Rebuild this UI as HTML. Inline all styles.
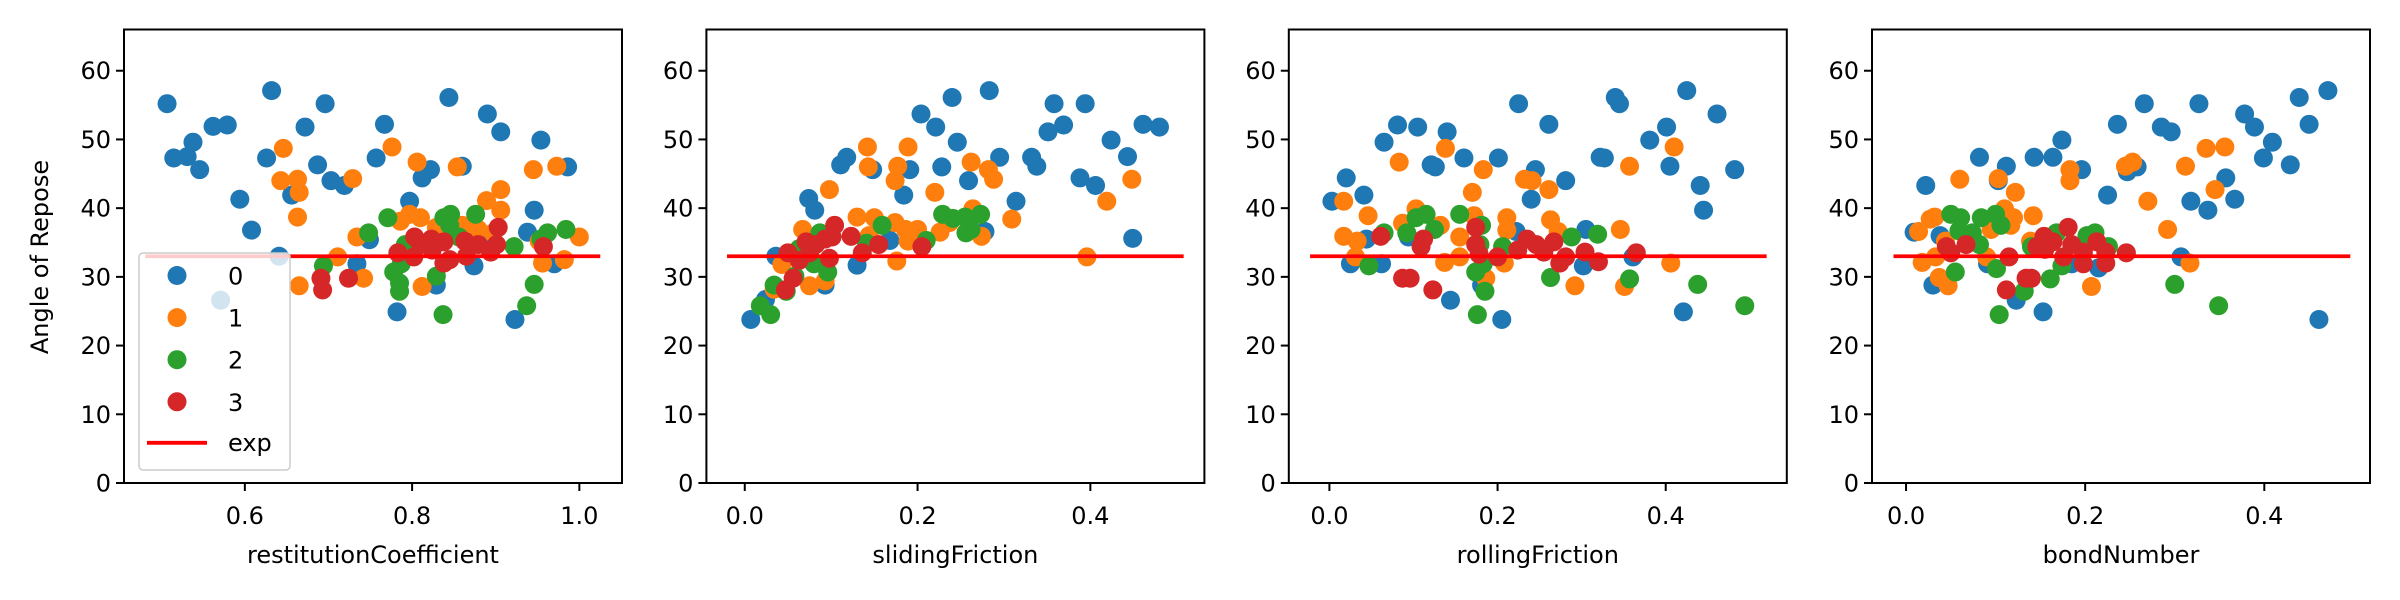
<!DOCTYPE html>
<html><head><meta charset="utf-8"><style>
html,body{margin:0;padding:0;background:#fff}
svg{display:block}
text{font-family:"DejaVu Sans","Liberation Sans",sans-serif;fill:#000}
</style></head><body>
<svg id="chart" width="2400" height="600" viewBox="0 0 2400 600" xmlns="http://www.w3.org/2000/svg"></svg>
<script>
const COLORS=["#1f77b4","#ff7f0e","#2ca02c","#d62728"];
const SERIES_NAMES=["0","1","2","3"];
const EXP_VALUE=33;
const Y_TICKS=[0,10,20,30,40,50,60];
const X_LABELS=["restitutionCoefficient","slidingFriction","rollingFriction","bondNumber"];
const X_TICKS=[[0.6,0.8,1.0],[0.0,0.2,0.4],[0.0,0.2,0.4],[0.0,0.2,0.4]];
const X_TICK_LABELS=[["0.6","0.8","1.0"],["0.0","0.2","0.4"],["0.0","0.2","0.4"],["0.0","0.2","0.4"]];
const X_DOMAINS=[[0.4555,1.051],[-0.0444,0.532],[-0.0483,0.544],[-0.038,0.518]];
const EXP_SPANS=[[0.481,1.025],[-0.0205,0.508],[-0.023,0.52],[-0.014,0.496]];

// panel 1 restitutionCoefficient
const p1x0=[0.507,0.515,0.531,0.538,0.546,0.562,0.579,0.594,0.608,0.571,0.641,0.632,0.626,0.672,0.687,0.696,0.703,0.719,0.656,0.734,0.749,0.757,0.767,0.782,0.797,0.812,0.822,0.829,0.844,0.860,0.874,0.890,0.906,0.886,0.923,0.938,0.946,0.954,0.970,0.986];
const p1y0=[55.2,47.3,47.5,49.6,45.6,51.9,52.1,41.3,36.8,26.6,33.0,57.1,47.3,51.8,46.3,55.2,44.0,43.3,41.9,31.9,35.4,47.3,52.2,24.9,41.0,44.4,45.6,28.8,56.1,46.1,31.6,53.7,51.1,35.8,23.8,36.5,39.7,49.9,31.9,46.0];
const p1x1=[0.646,0.643,0.663,0.665,0.663,0.665,0.711,0.729,0.734,0.742,0.776,0.786,0.797,0.806,0.810,0.812,0.829,0.854,0.860,0.879,0.889,0.906,0.906,0.945,0.952,0.956,0.973,0.982,1.000,0.897];
const p1y1=[48.7,44.0,44.2,42.3,38.7,28.7,32.9,44.3,35.8,29.8,48.9,38.1,39.1,46.7,38.6,28.6,37.2,46.0,37.5,36.9,41.1,42.7,39.7,45.6,35.2,32.0,46.1,32.5,35.8,36.4];
const p1x2=[0.694,0.748,0.771,0.778,0.785,0.785,0.787,0.792,0.829,0.837,0.838,0.846,0.845,0.876,0.922,0.946,0.937,0.962,0.954,0.984,0.856];
const p1y2=[31.6,36.4,38.6,30.7,29.1,27.9,31.9,34.7,30.1,24.5,38.6,39.1,37.5,39.1,34.4,28.9,25.8,36.4,35.5,36.9,35.8];
const p1x3=[0.691,0.693,0.724,0.783,0.802,0.803,0.810,0.823,0.824,0.838,0.838,0.845,0.863,0.865,0.879,0.894,0.903,0.901,0.957];
const p1y3=[29.8,28.1,29.8,33.5,32.9,35.8,34.7,35.5,33.9,35.1,32.0,32.5,35.2,33.0,34.7,33.6,37.2,34.7,34.4];

// panel 2 slidingFriction
const p2x0=[0.007,0.024,0.036,0.074,0.081,0.093,0.111,0.118,0.148,0.130,0.168,0.184,0.191,0.204,0.221,0.228,0.240,0.246,0.259,0.278,0.283,0.295,0.314,0.332,0.338,0.351,0.358,0.369,0.388,0.394,0.406,0.424,0.443,0.449,0.461,0.480];
const p2y0=[23.8,26.7,33.0,41.4,39.7,28.8,46.3,47.4,45.6,31.7,35.3,41.9,45.6,53.7,51.8,46.0,56.1,49.6,44.0,36.6,57.1,47.4,41.0,47.4,46.1,51.1,55.2,52.1,44.4,55.2,43.3,49.9,47.5,35.6,52.2,51.8];
const p2x1=[0.034,0.043,0.067,0.075,0.093,0.098,0.130,0.142,0.143,0.144,0.150,0.174,0.177,0.176,0.174,0.186,0.189,0.189,0.200,0.220,0.226,0.237,0.262,0.264,0.274,0.282,0.288,0.309,0.396,0.419,0.448];
const p2y1=[28.2,31.8,36.9,28.7,29.4,42.7,38.7,48.9,46.0,36.0,38.6,44.0,46.1,32.3,37.9,36.9,48.9,35.2,36.9,42.3,36.5,37.9,46.7,39.9,35.9,45.6,44.2,38.4,32.9,41.0,44.2];
const p2x2=[0.018,0.030,0.034,0.048,0.058,0.063,0.080,0.087,0.096,0.141,0.159,0.210,0.229,0.241,0.255,0.256,0.273,0.262];
const p2y2=[25.8,24.5,28.8,27.9,30.1,34.1,31.9,36.4,30.7,34.9,37.5,35.3,39.1,38.5,38.7,36.4,39.1,36.9];
const p2x3=[0.047,0.050,0.056,0.063,0.071,0.075,0.082,0.093,0.098,0.104,0.101,0.123,0.136,0.155,0.205];
const p2y3=[28.1,33.5,29.8,32.4,35.1,33.5,34.7,35.5,32.7,37.5,35.8,35.9,33.5,34.7,34.4];

// panel 3 rollingFriction
const p3x0=[0.003,0.020,0.025,0.041,0.044,0.062,0.065,0.081,0.094,0.105,0.121,0.126,0.140,0.144,0.160,0.181,0.201,0.205,0.222,0.225,0.240,0.245,0.261,0.281,0.302,0.305,0.322,0.327,0.340,0.345,0.361,0.381,0.401,0.405,0.421,0.425,0.441,0.445,0.461,0.482];
const p3y0=[41.0,44.4,31.9,41.9,35.5,31.9,49.6,52.1,35.8,51.8,46.3,46.0,51.1,26.6,47.3,28.8,47.3,23.8,36.6,55.2,41.3,45.6,52.2,44.0,31.6,36.9,47.4,47.3,56.1,55.2,32.9,49.9,51.8,46.1,24.9,57.1,43.3,39.7,53.7,45.6];
const p3x1=[0.017,0.017,0.033,0.031,0.046,0.083,0.087,0.103,0.132,0.138,0.137,0.155,0.155,0.170,0.172,0.183,0.186,0.208,0.211,0.211,0.232,0.241,0.261,0.263,0.272,0.292,0.346,0.351,0.357,0.406,0.410];
const p3y1=[41.0,35.9,35.2,32.9,38.9,46.7,37.8,39.9,37.5,48.7,32.1,35.8,32.9,42.3,38.9,45.6,29.8,32.0,38.6,36.8,44.2,44.0,42.7,38.3,36.6,28.7,36.9,28.6,46.1,32.0,48.9];
const p3x2=[0.047,0.065,0.092,0.103,0.115,0.125,0.155,0.174,0.176,0.181,0.185,0.183,0.179,0.206,0.263,0.288,0.319,0.357,0.438,0.494];
const p3y2=[31.6,36.4,36.4,38.6,39.1,36.9,39.1,30.7,24.5,37.5,27.9,31.9,34.7,34.4,29.9,35.8,36.2,29.7,28.9,25.8];
const p3x3=[0.061,0.087,0.096,0.109,0.112,0.123,0.174,0.174,0.178,0.200,0.224,0.235,0.246,0.255,0.267,0.274,0.281,0.304,0.320,0.365];
const p3y3=[35.9,29.8,29.8,34.4,35.5,28.1,37.2,34.7,33.3,32.9,33.9,35.5,34.7,33.6,35.1,32.0,32.9,33.6,32.2,33.5];

// panel 4 bondNumber
const p4x0=[0.009,0.022,0.030,0.038,0.082,0.091,0.103,0.112,0.123,0.143,0.153,0.164,0.174,0.185,0.196,0.215,0.225,0.236,0.247,0.258,0.266,0.285,0.296,0.307,0.318,0.327,0.337,0.357,0.367,0.378,0.389,0.399,0.409,0.429,0.439,0.450,0.461,0.471];
const p4y0=[36.5,43.3,28.8,36.0,47.4,31.9,44.0,46.1,26.6,47.4,24.9,47.4,49.9,31.9,45.6,31.3,41.9,52.2,45.3,46.0,55.2,51.8,51.1,32.9,41.0,55.2,39.7,44.4,41.3,53.7,51.8,47.3,49.6,46.3,56.1,52.2,23.8,57.1];
const p4x1=[0.014,0.018,0.027,0.032,0.033,0.037,0.047,0.044,0.060,0.090,0.095,0.103,0.110,0.117,0.120,0.122,0.139,0.142,0.183,0.183,0.207,0.245,0.253,0.270,0.292,0.312,0.317,0.335,0.345,0.356];
const p4y1=[36.6,32.1,38.4,38.7,32.9,29.9,28.7,35.2,44.2,32.9,36.9,44.3,39.9,37.5,38.6,42.3,35.2,38.9,45.6,44.0,28.6,46.1,46.7,41.0,36.9,46.1,32.0,48.7,42.7,48.9];
const p4x2=[0.050,0.055,0.061,0.059,0.074,0.082,0.084,0.100,0.101,0.104,0.106,0.132,0.140,0.161,0.168,0.174,0.202,0.211,0.226,0.300,0.349];
const p4y2=[39.1,30.7,38.6,36.7,36.4,34.7,38.6,39.1,31.2,24.5,37.5,27.9,34.4,29.7,36.4,31.6,36.0,36.4,34.4,28.9,25.8];
const p4x3=[0.045,0.050,0.067,0.112,0.115,0.134,0.140,0.146,0.154,0.155,0.164,0.176,0.181,0.185,0.198,0.198,0.213,0.223,0.223,0.246];
const p4y3=[34.4,33.5,34.7,28.1,32.9,29.8,29.8,34.4,35.9,34.0,35.1,32.9,37.2,34.7,33.6,31.9,35.1,32.0,33.6,33.5];

const PANEL_X=[[p1x0,p1x1,p1x2,p1x3],[p2x0,p2x1,p2x2,p2x3],[p3x0,p3x1,p3x2,p3x3],[p4x0,p4x1,p4x2,p4x3]];
const PANEL_Y=[[p1y0,p1y1,p1y2,p1y3],[p2y0,p2y1,p2y2,p2y3],[p3y0,p3y1,p3y2,p3y3],[p4y0,p4y1,p4y2,p4y3]];

const NS="http://www.w3.org/2000/svg";
const svg=document.getElementById('chart');
function mk(tag,attrs,parent){const e=document.createElementNS(NS,tag);for(const k in attrs)e.setAttribute(k,attrs[k]);(parent||svg).appendChild(e);return e;}

const PANEL_LEFT=[124,706.4,1288.8,1872];
const PW=498, TOP=29.5, BOT=483, YMAX=66;
function yScale(v){return BOT-(v/YMAX)*(BOT-TOP);}

for(let p=0;p<4;p++){
  const L=PANEL_LEFT[p], dom=X_DOMAINS[p];
  const xScale=v=>L+(v-dom[0])/(dom[1]-dom[0])*PW;
  const g=mk('g',{});
  
  
  const clipId='clip'+p;
  const cp=mk('clipPath',{id:clipId},g);
  mk('rect',{x:L,y:TOP,width:PW,height:BOT-TOP},cp);
  const plot=mk('g',{'clip-path':'url(#'+clipId+')'},g);
  for(let s=0;s<4;s++){
    const sg=mk('g',{},plot);
    
    
    const xs=PANEL_X[p][s], ys=PANEL_Y[p][s];
    for(let i=0;i<xs.length;i++){
      const c=mk('circle',{cx:xScale(xs[i]),cy:yScale(ys[i]),r:9.5,fill:COLORS[s]},sg);
      
      
    }
  }
  const ln=mk('line',{x1:xScale(EXP_SPANS[p][0]),x2:xScale(EXP_SPANS[p][1]),y1:yScale(EXP_VALUE),y2:yScale(EXP_VALUE),stroke:'#ff0000','stroke-width':3.8},plot);
  
  
  const fr=mk('rect',{x:L,y:TOP,width:PW,height:BOT-TOP,fill:'none',stroke:'#000','stroke-width':2},g);
  
  
  for(let i=0;i<Y_TICKS.length;i++){
    const y=yScale(Y_TICKS[i]);
    mk('line',{x1:L-8,x2:L,y1:y,y2:y,stroke:'#000','stroke-width':2},g);
    const t=mk('text',{x:L-13,y:y+8.5,'text-anchor':'end','font-size':24},g);
    t.textContent=String(Y_TICKS[i]);
    
    
  }
  for(let i=0;i<X_TICKS[p].length;i++){
    const x=xScale(X_TICKS[p][i]);
    mk('line',{x1:x,x2:x,y1:BOT,y2:BOT+8,stroke:'#000','stroke-width':2},g);
    const t=mk('text',{x:x,y:524,'text-anchor':'middle','font-size':24},g);
    t.textContent=X_TICK_LABELS[p][i];
    
    
  }
  const xl=mk('text',{x:L+PW/2,y:563,'text-anchor':'middle','font-size':24},g);
  xl.textContent=X_LABELS[p];
  
  
}
const yl=mk('text',{x:0,y:0,'text-anchor':'middle','font-size':24,transform:'translate(48,257) rotate(-90)'});
yl.textContent='Angle of Repose';



// legend
const lg=mk('g',{});


mk('rect',{x:139,y:253,width:151,height:217,rx:4,fill:'#fff','fill-opacity':0.8,stroke:'#cccccc','stroke-width':1.5},lg);
const rows=[275.5,317.6,359.7,401.8];
for(let s=0;s<4;s++){
  const e=mk('g',{},lg);
  
  
  mk('circle',{cx:177,cy:rows[s],r:9.5,fill:COLORS[s]},e);
  const t=mk('text',{x:228,y:rows[s]+9,'font-size':24},e);
  t.textContent=SERIES_NAMES[s];
}
const le=mk('g',{},lg);


mk('line',{x1:147,x2:207,y1:442.8,y2:442.8,stroke:'#ff0000','stroke-width':3.8},le);
const et=mk('text',{x:228,y:451,'font-size':24},le);
et.textContent='exp';
</script>
</body></html>
